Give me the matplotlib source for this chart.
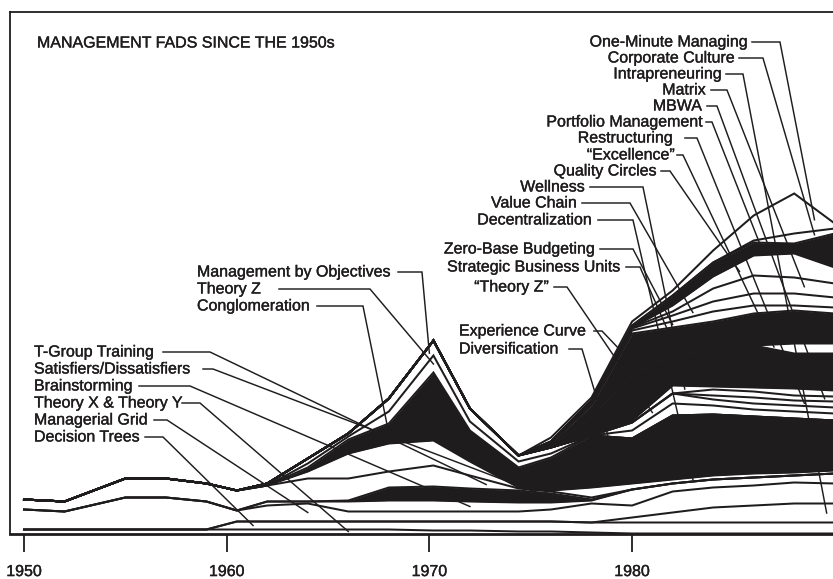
import numpy as np
import matplotlib
matplotlib.use("Agg")
import matplotlib.pyplot as plt
import matplotlib.patheffects as pe

plt.rcParams['font.family'] = ['Liberation Sans', 'DejaVu Sans']

# ---------------- data (popularity "thickness" of each fad, stacked bottom -> top)
years = [1950, 1952, 1955, 1957, 1959, 1960.5, 1962, 1964, 1966, 1968, 1970.2,
         1972, 1974.4, 1976, 1978, 1980, 1982, 1984, 1986, 1988, 1990]

theory_xy    = [4, 4, 4, 4, 4, 4, 4, 4, 4, 4, 3, 3, 2, 2, 1, 0, 0, 0, 0, 0, 0]
decision     = [0, 0, 0, 0, 0, 8, 8, 8, 8, 8, 9, 9, 10, 10, 10, 11, 11, 11, 11, 11, 11]
intrapren    = [0, 0, 0, 0, 0, 0, 0, 0, 0, 0, 0, 0, 0, 0, 0, 5, 10, 15, 17, 19, 19]
mgr_grid     = [20, 18, 32, 32, 28, 11, 16, 18, 10, 10, 10, 10, 10, 12, 19, 12, 21, 20, 20, 21, 20]
brainstorm   = [0, 0, 0, 0, 0, 0, 4, 2, 10, 11, 11, 10, 9, 7, 3, 16, 8, 8, 8, 7, 10]
satisfiers   = [0, 0, 0, 0, 0, 0, 0, 0, 1, 13, 14, 13, 12, 9, 1, 0, 0, 0, 0, 0, 0]
tgroup       = [10, 10, 19, 19, 18, 20, 16, 23, 22, 16, 21, 13, 2, 2, 2, 0, 0, 0, 0, 0, 0]
decentral    = [0, 0, 0, 0, 0, 0, 0, 7, 25, 28, 25, 14, 1, 1, 10, 6, 4, 4, 4, 3, 3]
conglom      = [0, 0, 0, 0, 0, 0, 0, 4, 14, 20, 68, 31, 20, 33, 52, 45, 64, 61, 57, 54, 50]
theory_z     = [0, 0, 0, 0, 0, 0, 0, 4, 3, 12, 17, 9, 6, 4, 0, 0, 0, 0, 0, 0, 0]
mbo          = [0, 0, 0, 0, 0, 0, 2, 5, 3, 13, 15, 13, 6, 6, 0, 0, 0, 0, 0, 0, 0]
diversif     = [0, 0, 0, 0, 0, 0, 0, 0, 0, 0, 0, 0, 0, 0, 0, 8, 12, 9, 7, 7, 7]
theory_z2    = [0, 0, 0, 0, 0, 0, 0, 0, 0, 0, 0, 0, 0, 0, 0, 8, 10, 6, 6, 6, 6]
restruct     = [0, 0, 0, 0, 0, 0, 0, 0, 0, 0, 0, 0, 0, 0, 0, 0, 0, 4, 6, 5, 6]
mbwa         = [0, 0, 0, 0, 0, 0, 0, 0, 0, 0, 0, 0, 0, 0, 0, 0, 0, 6, 6, 5, 5]
wellness     = [0, 0, 0, 0, 0, 0, 0, 0, 0, 0, 0, 0, 0, 0, 0, 2, 8, 3, 4, 7, 6]
exp_curve    = [0, 0, 0, 0, 0, 0, 0, 0, 0, 0, 0, 0, 0, 2, 20, 47, 30, 38, 42, 35, 37]
excellence   = [0, 0, 0, 0, 0, 0, 0, 0, 0, 0, 0, 0, 0, 0, 0, 0, 0, 0, 0, 10, 10]
sbu          = [0, 0, 0, 0, 0, 0, 0, 0, 0, 0, 0, 0, 0, 2, 10, 40, 28, 27, 32, 33, 30]
zbb          = [0, 0, 0, 0, 0, 0, 0, 0, 0, 0, 0, 0, 0, 0, 2, 3, 6, 10, 8, 5, 6]
value_chain  = [0, 0, 0, 0, 0, 0, 0, 0, 0, 0, 0, 0, 0, 2, 2, 2, 6, 10, 12, 12, 10]
matrix       = [0, 0, 0, 0, 0, 0, 0, 0, 0, 0, 0, 0, 0, 0, 1, 1, 4, 13, 18, 16, 14]
quality      = [0, 0, 0, 0, 0, 0, 0, 0, 0, 0, 0, 0, 0, 0, 0, 0, 6, 12, 20, 24, 16]
portfolio    = [0, 0, 0, 0, 0, 0, 0, 0, 0, 0, 0, 0, 0, 0, 0, 2, 10, 14, 13, 10, 34]
corp_culture = [0, 0, 0, 0, 0, 0, 0, 0, 0, 0, 0, 0, 0, 0, 0, 0, 0, 0, 2, 10, 5]
one_minute   = [0, 0, 0, 0, 0, 0, 0, 0, 0, 0, 0, 0, 0, 4, 3, 4, 5, 12, 25, 40, 5]

labels = ["Theory X & Theory Y", "Decision Trees", "Intrapreneuring", "Managerial Grid",
          "Brainstorming", "Satisfiers/Dissatisfiers", "T-Group Training", "Decentralization",
          "Conglomeration", "Theory Z", "Management by Objectives", "Diversification",
          "\u201cTheory Z\u201d", "Restructuring", "MBWA", "Wellness", "Experience Curve",
          "\u201cExcellence\u201d", "Strategic Business Units", "Zero-Base Budgeting",
          "Value Chain", "Matrix", "Quality Circles", "Portfolio Management",
          "Corporate Culture", "One-Minute Managing"]
series = [theory_xy, decision, intrapren, mgr_grid, brainstorm, satisfiers, tgroup, decentral,
          conglom, theory_z, mbo, diversif, theory_z2, restruct, mbwa, wellness, exp_curve,
          excellence, sbu, zbb, value_chain, matrix, quality, portfolio, corp_culture, one_minute]
black_fads = ["Satisfiers/Dissatisfiers", "Conglomeration", "Experience Curve",
              "Strategic Business Units", "Portfolio Management"]
tick_years = [1950, 1960, 1970, 1980]
title = "MANAGEMENT FADS SINCE THE 1950s"

# ---------------- layout helpers (pixel geometry of the 833x579 canvas)
W, H = 833, 579
X0, PXY = 24.0, 20.27       # pixel of 1950, pixels per year
YB = 533.5                  # pixel of baseline


def px2yr(px):
    return 1950 + (px - X0) / PXY


def py2v(py):
    return YB - py


fig = plt.figure(figsize=(W / 100, H / 100), dpi=100)
ax = fig.add_axes([10 / W, (H - YB) / H, (W - 10) / W + 0.02, (YB - 12) / H])
ax.set_xlim(px2yr(10), px2yr(W + 16.7))
ax.set_ylim(0, YB - 12)

x = np.array(years, dtype=float)
vals = np.array(series, dtype=float)
tops = np.cumsum(vals, axis=0)
bots = np.vstack([np.zeros(len(x)), tops[:-1]])
INK = '#1f1c1d'

for lab, b, t in zip(labels, bots, tops):
    if lab in black_fads:
        ax.fill_between(x, b, t, color=INK, lw=0, zorder=2)
for t in tops:
    ax.plot(x, t, color=INK, lw=1.45, zorder=3, solid_joinstyle='miter')

# ---------------- labels and leader lines
# label: (text x px, text y px, align, line start px, elbow px, target year)
lay = {
    "T-Group Training":        (34, 352, 'left', 163, 210, 1972.8),
    "Satisfiers/Dissatisfiers": (34, 369, 'left', 203, 213, 1976.0),
    "Brainstorming":           (34, 386, 'left', 139, 190, 1972.0),
    "Theory X & Theory Y":     (34, 403, 'left', 182, 200, 1966.0),
    "Managerial Grid":         (34, 420, 'left', 154, 167, 1964.0),
    "Decision Trees":          (34, 437, 'left', 145, 163, 1961.3),
    "Management by Objectives": (197, 272, 'left', 398, 422, 1970.0),
    "Theory Z":                (197, 289, 'left', 279, 370, 1970.2),
    "Conglomeration":          (197, 306, 'left', 317, 363, 1968.0),
    "Experience Curve":        (459, 331, 'left', 594, 602, 1981.0),
    "Diversification":         (459, 349, 'left', 569, 582, 1978.8),
    "\u201cTheory Z\u201d":    (549, 287, 'right', 554, 567, 1981.0),
    "Strategic Business Units": (621, 267, 'right', 626, 640, 1982.0),
    "Zero-Base Budgeting":     (595, 249, 'right', 600, 633, 1982.0),
    "Decentralization":        (592, 220, 'right', 598, 633, 1983.0),
    "Value Chain":             (577, 203, 'right', 582, 630, 1983.0),
    "Wellness":                (585, 187, 'right', 590, 643, 1982.6),
    "Quality Circles":         (657, 171, 'right', 661, 670, 1985.3),
    "\u201cExcellence\u201d":  (675, 155, 'right', 677, 683, 1987.0),
    "Restructuring":           (673, 138, 'right', 685, 697, 1988.5),
    "Portfolio Management":    (703, 122, 'right', 706, 712, 1986.4),
    "MBWA":                    (702, 106, 'right', 707, 717, 1989.5),
    "Matrix":                  (706, 90, 'right', 711, 727, 1988.5),
    "Intrapreneuring":         (722, 74, 'right', 726, 743, 1989.6),
    "Corporate Culture":       (735, 58, 'right', 739, 763, 1989.0),
    "One-Minute Managing":     (748, 42, 'right', 752, 780, 1989.0),
}

FS = 11.5
heavy = [pe.withStroke(linewidth=0.25, foreground=INK)]
for lab, b, t in zip(labels, bots, tops):
    tx, ty, ha, s, e, yr = lay[lab]
    mid = np.interp(yr, x, (b + t) / 2)
    ax.text(px2yr(tx), py2v(ty), lab, ha=ha, va='center', fontsize=FS, color=INK,
            zorder=6, clip_on=False, path_effects=heavy)
    ax.plot([px2yr(s), px2yr(e), yr], [py2v(ty), py2v(ty), mid], color=INK, lw=1.05,
            zorder=4, solid_joinstyle='miter')

ax.text(px2yr(37), py2v(43), title, ha='left', va='center', fontsize=FS, color=INK,
        path_effects=heavy)

# ---------------- axes styling
ax.spines['right'].set_visible(False)
ax.spines['left'].set_linewidth(1.3)
ax.spines['top'].set_linewidth(1.3)
ax.spines['bottom'].set_linewidth(2.0)
for sp in ax.spines.values():
    sp.set_color(INK)
ax.set_yticks([])
ax.set_xticks(tick_years)
ax.set_xticklabels([str(v) for v in tick_years])
ax.tick_params(axis='x', direction='out', length=13, width=1.3, pad=9,
               labelsize=FS, colors=INK)
for tl in ax.get_xticklabels():
    tl.set_path_effects(heavy)

fig.savefig("out.png", dpi=100, facecolor='white')
